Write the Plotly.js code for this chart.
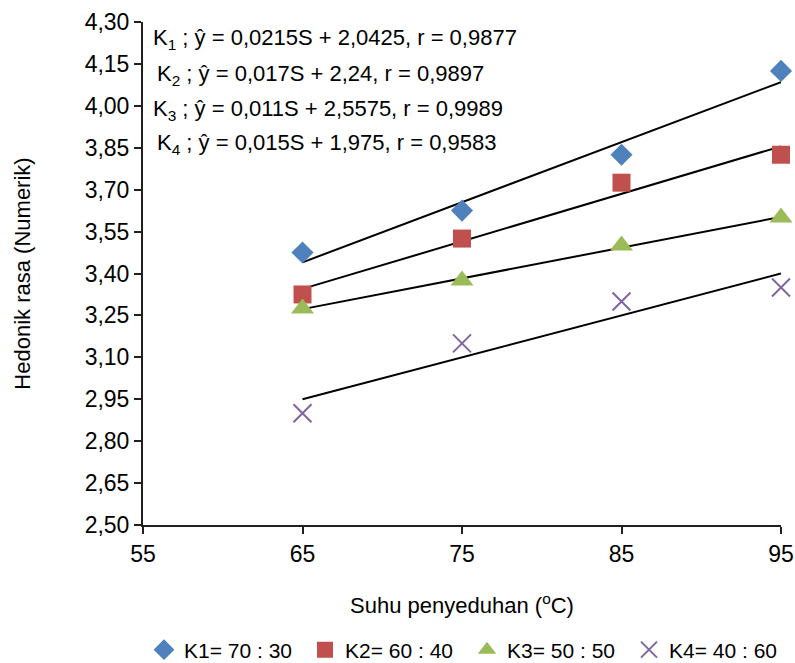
<!DOCTYPE html>
<html><head><meta charset="utf-8">
<script src="https://cdn.plot.ly/plotly-3.0.1.min.js"></script>
<style>html,body{margin:0;padding:0;background:#fff}#c{width:795px;height:663px}</style>
</head><body><div id="c"></div>
<script>
const temps = [65, 75, 85, 95];
const k1 = [3.475, 3.625, 3.825, 4.125];
const k2 = [3.325, 3.525, 3.725, 3.825];
const k3 = [3.275, 3.375, 3.50, 3.60];
const k4 = [2.90, 3.15, 3.30, 3.35];
const seriesNames = ['K1= 70 : 30', 'K2= 60 : 40', 'K3= 50 : 50', 'K4= 40 : 60'];
const slopes = [0.0215, 0.017, 0.011, 0.015];
const intercepts = [2.0425, 2.24, 2.5575, 1.975];
const eqLabels = [
  'K<sub>1</sub> ; ŷ = 0,0215S + 2,0425, r = 0,9877',
  'K<sub>2</sub> ; ŷ = 0,017S + 2,24, r = 0,9897',
  'K<sub>3</sub> ; ŷ = 0,011S + 2,5575, r = 0,9989',
  'K<sub>4</sub> ; ŷ = 0,015S + 1,975, r = 0,9583'
];
const yTicks = [2.50, 2.65, 2.80, 2.95, 3.10, 3.25, 3.40, 3.55, 3.70, 3.85, 4.00, 4.15, 4.30];
const yTickText = yTicks.map(v => v.toFixed(2).replace('.', ','));
const xTicks = [55, 65, 75, 85, 95];

const FONT = '"Liberation Sans", Arial, sans-serif';
const styles = [
  {symbol: 'diamond', color: '#4F81BD', size: 17},
  {symbol: 'square', color: '#C0504D', size: 18},
  {symbol: 'triangle-up', color: '#9BBB59', size: 20},
  {symbol: 'x-thin-open', color: '#8064A2', size: 18}
];
const legendIds = ['legend', 'legend2', 'legend3', 'legend4'];
const legendLeftPx = [144, 305, 467, 629];
const data = [k1, k2, k3, k4];
const traces = [];
data.forEach((d, i) => {
  const xs = [temps[0], temps[temps.length - 1]];
  traces.push({
    x: xs, y: xs.map(x => slopes[i] * x + intercepts[i]),
    mode: 'lines', line: {color: '#000', width: 2}, showlegend: false, hoverinfo: 'skip',
    cliponaxis: false
  });
});
data.forEach((d, i) => {
  const s = styles[i];
  traces.push({
    x: temps, y: d, name: seriesNames[i], mode: 'markers', legend: legendIds[i],
    cliponaxis: false,
    marker: {symbol: s.symbol, color: s.color, size: s.size,
      line: {color: s.color, width: s.symbol === 'x-thin-open' ? 2 : 0}}
  });
});

const annYs = [4.24, 4.11, 3.985, 3.865];
const annXs = [151, 155, 151, 155];
const annotations = eqLabels.map((t, i) => ({
  text: t, xref: 'paper', yref: 'y', x: (annXs[i] - 143) / 638, y: annYs[i],
  xanchor: 'left', yanchor: 'middle', showarrow: false,
  font: {family: FONT, size: 22, color: '#000'}
}));

const layout = {
  width: 795, height: 663,
  margin: {l: 143, r: 14, t: 22, b: 138},
  paper_bgcolor: '#fff', plot_bgcolor: '#fff',
  font: {family: FONT, color: '#000'},
  xaxis: {
    range: [55, 95], tickvals: xTicks, ticktext: xTicks.map(String),
    showgrid: false, zeroline: false, showline: true, linecolor: '#231F20', linewidth: 2,
    ticks: 'outside', ticklen: 7, tickwidth: 2, tickcolor: '#231F20',
    tickfont: {family: FONT, size: 23, color: '#000'},
    title: {text: 'Suhu penyeduhan (<sup>o</sup>C)', font: {family: FONT, size: 22, color: '#000'}, standoff: 32}
  },
  yaxis: {
    range: [2.5, 4.3], tickvals: yTicks, ticktext: yTickText,
    showgrid: false, zeroline: false, showline: true, linecolor: '#231F20', linewidth: 2,
    ticks: 'outside', ticklen: 7, tickwidth: 2, tickcolor: '#231F20',
    tickfont: {family: FONT, size: 23, color: '#000'},
    title: {text: 'Hedonik rasa (Numerik)', font: {family: FONT, size: 22, color: '#000'}, standoff: 48}
  },
  annotations: annotations,
  showlegend: true
};
legendIds.forEach((id, i) => {
  layout[id] = {
    orientation: 'h', xref: 'container', yref: 'container',
    x: legendLeftPx[i] / 795, xanchor: 'left', y: 13 / 663, yanchor: 'middle',
    font: {family: FONT, size: 21, color: '#000'}, itemwidth: 30, bgcolor: 'rgba(0,0,0,0)'
  };
});
Plotly.newPlot('c', traces, layout, {staticPlot: true, displayModeBar: false});
</script></body></html>
